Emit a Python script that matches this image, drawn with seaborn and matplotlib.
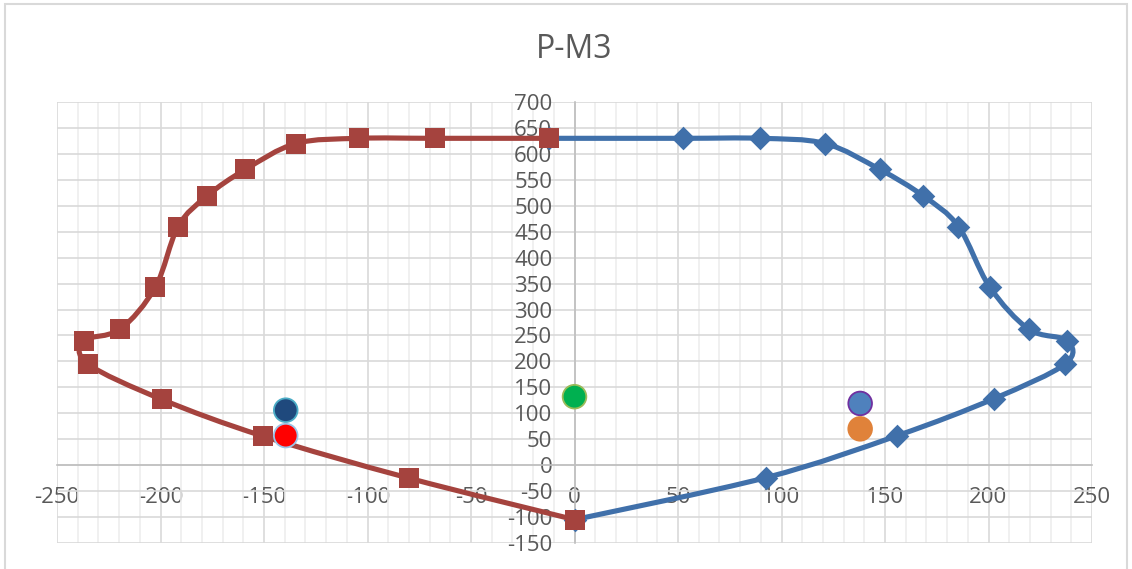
import numpy as np
import pandas as pd
import matplotlib
matplotlib.use("Agg")
import matplotlib.pyplot as plt
import seaborn as sns
from matplotlib.path import Path
from matplotlib.patches import PathPatch, Rectangle
from matplotlib.ticker import MultipleLocator

# ---------------- data ----------------
title = "P-M3"

neg_m = [-12.5, -67.5, -104, -134.5, -159, -177.5, -191.5, -202.5, -219.5, -237, -235, -199.5, -150.5, -80, 0]
neg_p = [630, 630, 630, 620, 570, 519, 460, 343, 262, 240, 195, 127, 56, -25, -105]

pos_m = [-12.5, 52.5, 89.5, 121, 147.5, 168.5, 185.5, 200.5, 219.5, 238, 237, 202.5, 156, 92.5, 0]
pos_p = [630, 630, 630, 620, 570, 519, 460, 344, 262, 240, 195, 128, 57, -24, -105]

pt_labels = ["D1", "D2", "D3", "D4", "D5"]
pt_m = [-139.5, -139.5, 0, 138, 138]
pt_p = [106, 57, 132, 119, 70]
pt_face = ["#1F497D", "#FF0000", "#00B050", "#4F81BD", "#E0823A"]
pt_edge = ["#4BACC6", "#9DC3E6", "#9BBB59", "#7030A0", "#E0823A"]

x_limits = (-250, 250)
y_limits = (-150, 700)

RED = "#A5433E"
BLUE = "#4070AA"
TXT = "#595959"

sns.set_theme(style="white")
plt.rcParams['font.family'] = ['Open Sans', 'DejaVu Sans']
plt.rcParams['axes.unicode_minus'] = False

W, H = 1132, 569
fig = plt.figure(figsize=(W / 100, H / 100), dpi=100)
ax = fig.add_axes([57 / W, 1 - 543 / H, (1092 - 57) / W, (543 - 102) / H])


def smooth_path(xs, ys):
    P = np.column_stack([xs, ys]).astype(float)
    n = len(P)
    verts = [P[0]]
    codes = [Path.MOVETO]
    for i in range(n - 1):
        p0 = P[i - 1] if i > 0 else P[i]
        p1, p2 = P[i], P[i + 1]
        p3 = P[i + 2] if i + 2 < n else P[i + 1]
        c1 = p1 + (p2 - p0) / 6.0
        c2 = p2 - (p3 - p1) / 6.0
        verts += [c1, c2, p2]
        codes += [Path.CURVE4] * 3
    return Path(verts, codes)


# positive-side curve (blue)
ax.add_patch(PathPatch(smooth_path(pos_m, pos_p), facecolor="none", edgecolor=BLUE,
                       lw=3.7, capstyle="round", joinstyle="round", zorder=3))
sns.scatterplot(x=pos_m, y=pos_p, marker="D", s=145, color=BLUE, edgecolor=BLUE,
                linewidth=0, ax=ax, zorder=4, legend=False)

# negative-side curve (red)
ax.add_patch(PathPatch(smooth_path(neg_m, neg_p), facecolor="none", edgecolor=RED,
                       lw=3.7, capstyle="round", joinstyle="round", zorder=5))
sns.scatterplot(x=neg_m, y=neg_p, marker="s", s=205, color=RED, edgecolor=RED,
                linewidth=0, ax=ax, zorder=6, legend=False)

# single demand points
pts = pd.DataFrame({"label": pt_labels, "M": pt_m, "P": pt_p})
sns.scatterplot(data=pts, x="M", y="P", hue="label",
                palette=dict(zip(pt_labels, pt_face)), s=290,
                edgecolor=pt_edge, linewidth=1.3, ax=ax, zorder=7, legend=False)

ax.set_xlim(*x_limits)
ax.set_ylim(*y_limits)
ax.xaxis.set_major_locator(MultipleLocator(50))
ax.xaxis.set_minor_locator(MultipleLocator(10))
ax.yaxis.set_major_locator(MultipleLocator(50))

ax.set_axisbelow(True)
ax.grid(which="major", color="#D9D9D9", lw=1.2)
ax.grid(which="minor", axis="x", color="#EEEEEE", lw=1.2)

for s in ["top", "right"]:
    ax.spines[s].set_visible(False)
ax.spines["left"].set_position(("data", 0))
ax.spines["bottom"].set_position(("data", 0))
for s in ["left", "bottom"]:
    ax.spines[s].set_color("#BFBFBF")
    ax.spines[s].set_linewidth(1.2)

ax.tick_params(axis="both", which="both", length=0, labelsize=16, labelcolor=TXT)
ax.tick_params(axis="x", pad=16)
ax.tick_params(axis="y", pad=16)
ax.set_xlabel("")
ax.set_ylabel("")

fig.text(574 / W, 1 - 58 / H, title, ha="center", va="baseline", fontsize=23, color=TXT)

fig.patches.append(Rectangle((5 / W, -0.05), (1127 - 5) / W, 1.05 - 4 / H,
                             transform=fig.transFigure, fill=False,
                             edgecolor="#D9D9D9", lw=1.5))

fig.savefig("out.png", dpi=100)
